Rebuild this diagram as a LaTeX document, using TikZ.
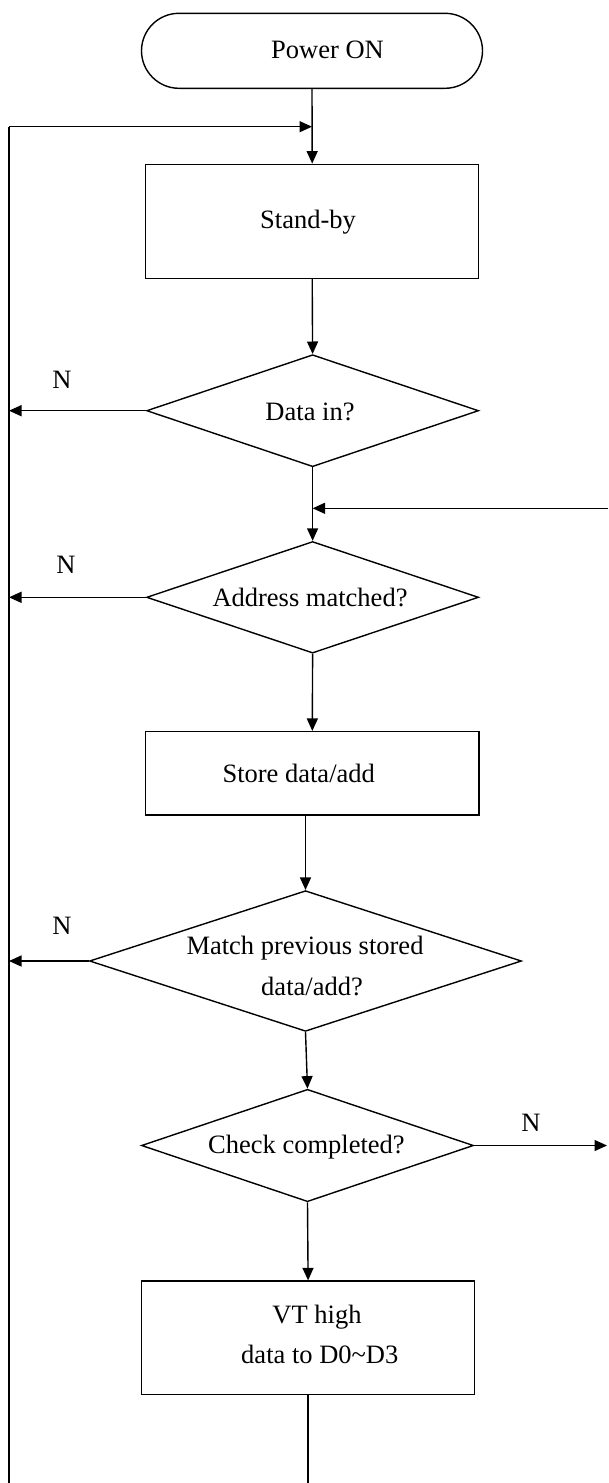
\documentclass[tikz,border=0pt]{standalone}
\usepackage{fontspec}
\setmainfont{Liberation Serif}
\usetikzlibrary{arrows.meta,shapes.geometric}
\tikzset{
  ln/.style={line width=1.4pt, line join=miter},
  arr/.style={ln, -{Triangle[length=12.5pt,width=11pt]}},
  boxshape/.style={draw, line width=1.4pt, rectangle, inner sep=0pt},
  termshape/.style={draw, line width=1.4pt, rectangle, rounded corners=37.5pt, inner sep=0pt},
  decshape/.style={draw, line width=1.4pt, diamond, inner sep=0pt, aspect=3},
  txt/.style={anchor=base, inner sep=0pt, font=\fontsize{26.5}{32}\selectfont},
}
\begin{document}
\begin{tikzpicture}[x=1pt,y=-1pt]
\useasboundingbox (0,0) rectangle (608,1483);
% shapes
\node[termshape, minimum width=341pt, minimum height=75pt] (pwr) at (312,50.8) {};
\node[boxshape, minimum width=333pt, minimum height=114pt] (sb) at (312.2,221.3) {};
\node[decshape, minimum width=332pt, minimum height=112pt] (din) at (312.6,410.7) {};
\node[decshape, minimum width=332pt, minimum height=111.6pt] (addr) at (312.6,597.3) {};
\node[boxshape, minimum width=333.3pt, minimum height=83.3pt] (store) at (312.3,773.3) {};
\node[decshape, minimum width=432pt, minimum height=140.7pt] (match) at (305.5,961) {};
\node[decshape, minimum width=332pt, minimum height=112.4pt] (check) at (307.5,1145.5) {};
\node[boxshape, minimum width=333.3pt, minimum height=113.3pt] (vt) at (308.1,1337.7) {};
% texts
\node[txt] (tpwr) at (327.5,58.3) {Power ON};
\node[txt] (tsb) at (308,228.3) {Stand-by};
\node[txt] (tdin) at (310,420) {Data in?};
\node[txt] (taddr) at (310,606) {Address matched?};
\node[txt] (tstore) at (298.7,782.7) {Store data/add};
\node[txt] (tmatchA) at (305,954) {Match previous stored};
\node[txt] (tmatchB) at (312,995) {data/add?};
\node[txt] (tcheck) at (306.4,1153.3) {Check completed?};
\node[txt] (tvtA) at (317,1323.3) {VT high};
\node[txt] (tvtB) at (319.8,1363.3) {data to D0\textasciitilde D3};
\node[txt] (n1) at (62,388) {N};
\node[txt] (n2) at (66,573.3) {N};
\node[txt] (n3) at (62,934) {N};
\node[txt] (n4) at (531,1131.7) {N};
% coordinates
\coordinate (ltop) at (9,126.7);
\coordinate (lbot) at (9,1483);
\coordinate (jtop) at (312,126.7);
\coordinate (rin) at (608,508.3);
\coordinate (jmid) at (312.6,508.3);
\coordinate (ldin) at (9,410.7);
\coordinate (laddr) at (9,597.3);
\coordinate (lmatch) at (9,961);
\coordinate (rcheck) at (607,1145.5);
\coordinate (vtbot) at (308.1,1483);
% connectors
\draw[arr] (pwr.south) -- (sb.north);
\draw[ln] (lbot) -- (ltop);
\draw[arr] (ltop) -- (jtop);
\draw[arr] (sb.south) -- (din.north);
\draw[arr] (din.west) -- (ldin);
\draw[arr] (din.south) -- (addr.north);
\draw[arr] (rin) -- (jmid);
\draw[arr] (addr.west) -- (laddr);
\draw[arr] (addr.south) -- (store.north);
\draw[arr] (store.south -| match.north) -- (match.north);
\draw[arr] (match.west) -- (lmatch);
\draw[arr] (match.south) -- (check.north);
\draw[arr] (check.east) -- (rcheck);
\draw[arr] (check.south) -- (vt.north);
\draw[ln] (vt.south) -- (vtbot);
\end{tikzpicture}
\end{document}
